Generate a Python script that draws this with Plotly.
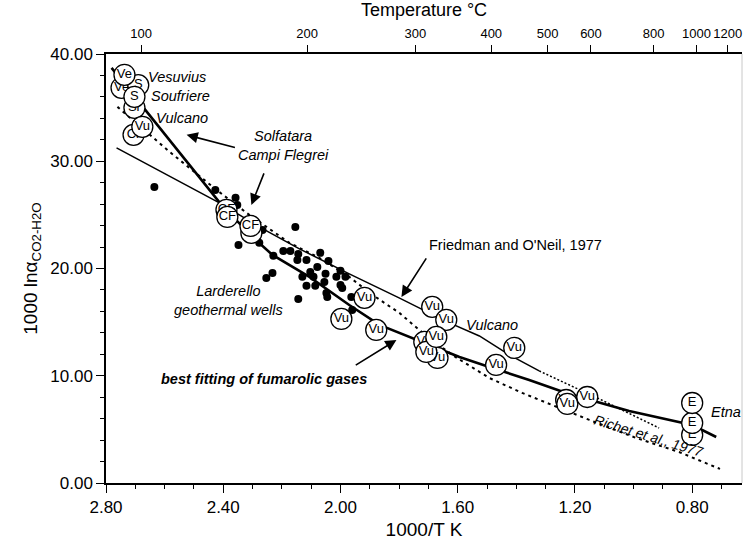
import plotly.graph_objects as go

FONT = "Liberation Sans, Arial, sans-serif"

# Larderello geothermal wells (1000/T, 1000 ln alpha)
well_x = [2.635, 2.427, 2.358, 2.352, 2.154, 2.266, 2.348, 2.277, 2.229, 2.195,
          2.171, 2.144, 2.147, 2.116, 2.069, 2.041, 2.079, 2.103, 2.130, 2.092,
          2.051, 2.000, 1.983, 2.014, 2.055, 2.086, 2.116, 2.000, 1.994, 2.048,
          2.045, 2.232, 2.253, 2.144, 1.963, 1.960]
well_y = [27.61, 27.33, 26.59, 25.93, 23.88, 23.60, 22.20, 22.39, 21.18, 21.64,
          21.64, 21.36, 20.80, 20.80, 21.46, 20.71, 20.15, 19.68, 19.22, 19.22,
          19.50, 19.78, 19.22, 19.22, 18.75, 18.38, 18.38, 18.47, 18.19, 17.72,
          17.35, 19.59, 19.12, 17.16, 17.35, 16.14]

# Fumarole samples, listed in drawing order (later ones sit on top)
circ_x = [2.747, 2.690, 2.703, 2.706, 2.737, 2.703, 2.676,
          2.389, 2.386, 2.304, 2.307,
          1.918, 1.997, 1.878, 1.687, 1.639,
          1.714, 1.669, 1.707, 1.673,
          1.407, 1.469, 1.230, 1.226, 1.158,
          0.800, 0.800, 0.800]
circ_y = [36.85, 37.10, 34.98, 32.46, 38.06, 36.01, 33.21,
          25.47, 24.81, 23.32, 23.97,
          17.26, 15.30, 14.27, 16.42, 15.21,
          13.15, 11.66, 12.22, 13.62,
          12.59, 11.01, 7.74, 7.37, 8.02,
          4.48, 5.60, 7.46]
circ_lbl = ["Ve", "S", "Sr", "Cr", "Ve", "S", "Vu",
            "CF", "CF", "CF", "CF",
            "Vu", "Vu", "Vu", "Vu", "Vu",
            "Vu", "Vu", "Vu", "Vu",
            "Vu", "Vu", "Vu", "Vu", "Vu",
            "E", "E", "E"]

# Best fitting of fumarolic gases
fit_x = [2.781, 2.406, 2.300, 2.232, 2.106, 1.970, 1.867, 1.731, 1.594, 1.482,
         1.356, 1.220, 1.015, 0.800, 0.718]
fit_y = [38.71, 25.93, 22.95, 21.27, 19.22, 16.60, 14.74, 13.25, 11.75, 10.73,
         9.61, 8.30, 6.72, 5.41, 4.29]

# Friedman and O'Neil (1977): solid part and its extrapolation
fo_x = [2.764, 2.413, 2.277, 2.140, 1.970, 1.800, 1.636, 1.526, 1.424, 1.322]
fo_y = [31.25, 26.12, 23.88, 21.83, 19.50, 17.26, 15.02, 13.71, 11.94, 10.45]
fo_ext_x = [1.322, 1.117, 0.913]
fo_ext_y = [10.45, 7.84, 5.13]

# Richet et al. (1977)
ri_x = [2.761, 2.583, 2.423, 2.311, 2.174, 2.072, 1.970, 1.891, 1.799, 1.731,
        1.619, 1.492, 1.380, 1.254, 1.151, 0.991, 0.845, 0.705]
ri_y = [35.07, 30.88, 27.33, 25.00, 22.39, 20.99, 19.22, 17.54, 15.86, 14.27,
        11.94, 9.79, 8.40, 7.00, 5.88, 4.20, 2.89, 1.31]

# Axes
x_ticks = [2.8, 2.4, 2.0, 1.6, 1.2, 0.8]
y_ticks = [0, 10, 20, 30, 40]
temp_ticks = [100, 200, 300, 400, 500, 600, 800, 1000, 1200]

X_RANGE = [2.8, 0.63]

fig = go.Figure()

fig.add_trace(go.Scatter(x=ri_x, y=ri_y, mode="lines",
                         line=dict(color="black", width=2, dash="3px,4px"),
                         showlegend=False, hoverinfo="skip"))
fig.add_trace(go.Scatter(x=fo_x, y=fo_y, mode="lines",
                         line=dict(color="black", width=1.5),
                         showlegend=False, hoverinfo="skip"))
fig.add_trace(go.Scatter(x=fo_ext_x, y=fo_ext_y, mode="lines",
                         line=dict(color="black", width=1.5, dash="2px,2px"),
                         showlegend=False, hoverinfo="skip"))
fig.add_trace(go.Scatter(x=fit_x, y=fit_y, mode="lines",
                         line=dict(color="black", width=2.6),
                         showlegend=False, hoverinfo="skip"))
fig.add_trace(go.Scatter(x=well_x, y=well_y, mode="markers",
                         marker=dict(color="black", size=8),
                         showlegend=False, hoverinfo="skip"))

for cx, cy, lbl in zip(circ_x, circ_y, circ_lbl):
    fig.add_trace(go.Scatter(
        x=[cx], y=[cy], mode="markers+text", text=[lbl],
        textposition="middle center",
        textfont=dict(family=FONT, size=13, color="black"),
        marker=dict(symbol="circle", size=21, color="white",
                    line=dict(color="black", width=1.3)),
        showlegend=False, hoverinfo="skip", cliponaxis=False))

# Top temperature axis carrier (invisible)
temp_pos = [1000.0 / (t + 273.15) for t in temp_ticks]
fig.add_trace(go.Scatter(x=[X_RANGE[0]], y=[0], xaxis="x2", mode="markers",
                         marker=dict(opacity=0), showlegend=False,
                         hoverinfo="skip"))


def label(x, y, text, size=14.5, anchor="left", angle=0):
    fig.add_annotation(x=x, y=y, xref="x", yref="y", text=text,
                       showarrow=False, xanchor=anchor, yanchor="middle",
                       textangle=angle,
                       font=dict(family=FONT, size=size, color="black"))


def arrow(x0, y0, x1, y1):
    fig.add_annotation(x=x1, y=y1, ax=x0, ay=y0, xref="x", yref="y",
                       axref="x", ayref="y", text="", showarrow=True,
                       arrowhead=2, arrowsize=1.4, arrowwidth=1.6,
                       arrowcolor="black")


label(2.662, 37.87, "<i>Vesuvius</i>")
label(2.652, 36.10, "<i>Soufriere</i>")
label(2.635, 34.05, "<i>Vulcano</i>")
label(2.195, 31.44, "<i>Solfatara<br>Campi Flegrei</i>", anchor="center")
label(2.382, 16.98, "<i>Larderello<br>geothermal wells</i>", anchor="center")
label(1.704, 22.20, "Friedman and O'Neil, 1977")
label(1.482, 14.74, "<i>Vulcano</i>", anchor="center")
label(2.618, 9.70, "<b><i>best fitting of fumarolic gases</i></b>")
label(0.742, 6.62, "<i>Etna</i>")
label(0.946, 4.40, "<i>Richet et al., 1977</i>", size=14, anchor="center",
      angle=17)

arrow(2.355, 31.25, 2.525, 32.46)
arrow(2.259, 29.01, 2.304, 25.93)
arrow(1.704, 21.08, 1.792, 17.35)
arrow(1.953, 10.91, 1.809, 13.34)

fig.update_layout(
    width=745, height=542,
    margin=dict(l=106, r=3, t=54, b=59),
    plot_bgcolor="white", paper_bgcolor="white",
    font=dict(family=FONT, color="black"),
    xaxis=dict(
        range=X_RANGE, tickvals=x_ticks,
        ticktext=[f"{v:.2f}" for v in x_ticks], tickangle=0,
        ticks="outside", ticklen=8, tickwidth=1.3, tickcolor="black",
        minor=dict(dtick=0.1, tick0=0.8, ticks="outside", ticklen=4,
                   tickcolor="black", tickwidth=1),
        showline=True, linecolor="black", linewidth=2, showgrid=False,
        zeroline=False, tickfont=dict(size=17),
        title=dict(text="1000/T K", font=dict(size=19), standoff=6),
    ),
    xaxis2=dict(
        overlaying="x", side="top", anchor="y", range=X_RANGE,
        tickvals=temp_pos, ticktext=[str(t) for t in temp_ticks],
        tickangle=0, ticklabelstandoff=2,
        ticks="outside", ticklen=7, tickwidth=1.3, tickcolor="black",
        showline=True, linecolor="black", linewidth=2, showgrid=False,
        zeroline=False, tickfont=dict(size=13),
        title=dict(text="Temperature °C", font=dict(size=18), standoff=4),
    ),
    yaxis=dict(
        range=[0, 40], tickvals=y_ticks,
        ticktext=[f"{v:.2f}" for v in y_ticks],
        ticks="outside", ticklen=8, tickwidth=1.3, tickcolor="black",
        minor=dict(dtick=2, ticks="outside", ticklen=4, tickcolor="black",
                   tickwidth=1),
        showline=True, linecolor="black", linewidth=1.5, showgrid=False,
        zeroline=False, tickfont=dict(size=17),
        title=dict(text="1000 lnα<sub>CO2-H2O</sub>", font=dict(size=19),
                   standoff=8),
    ),
)

# light frame edge on the right
fig.add_shape(type="line", xref="paper", yref="paper", x0=1, x1=1, y0=0, y1=1,
              line=dict(color="#c8c8c8", width=1))

fig.write_html("out.html")
